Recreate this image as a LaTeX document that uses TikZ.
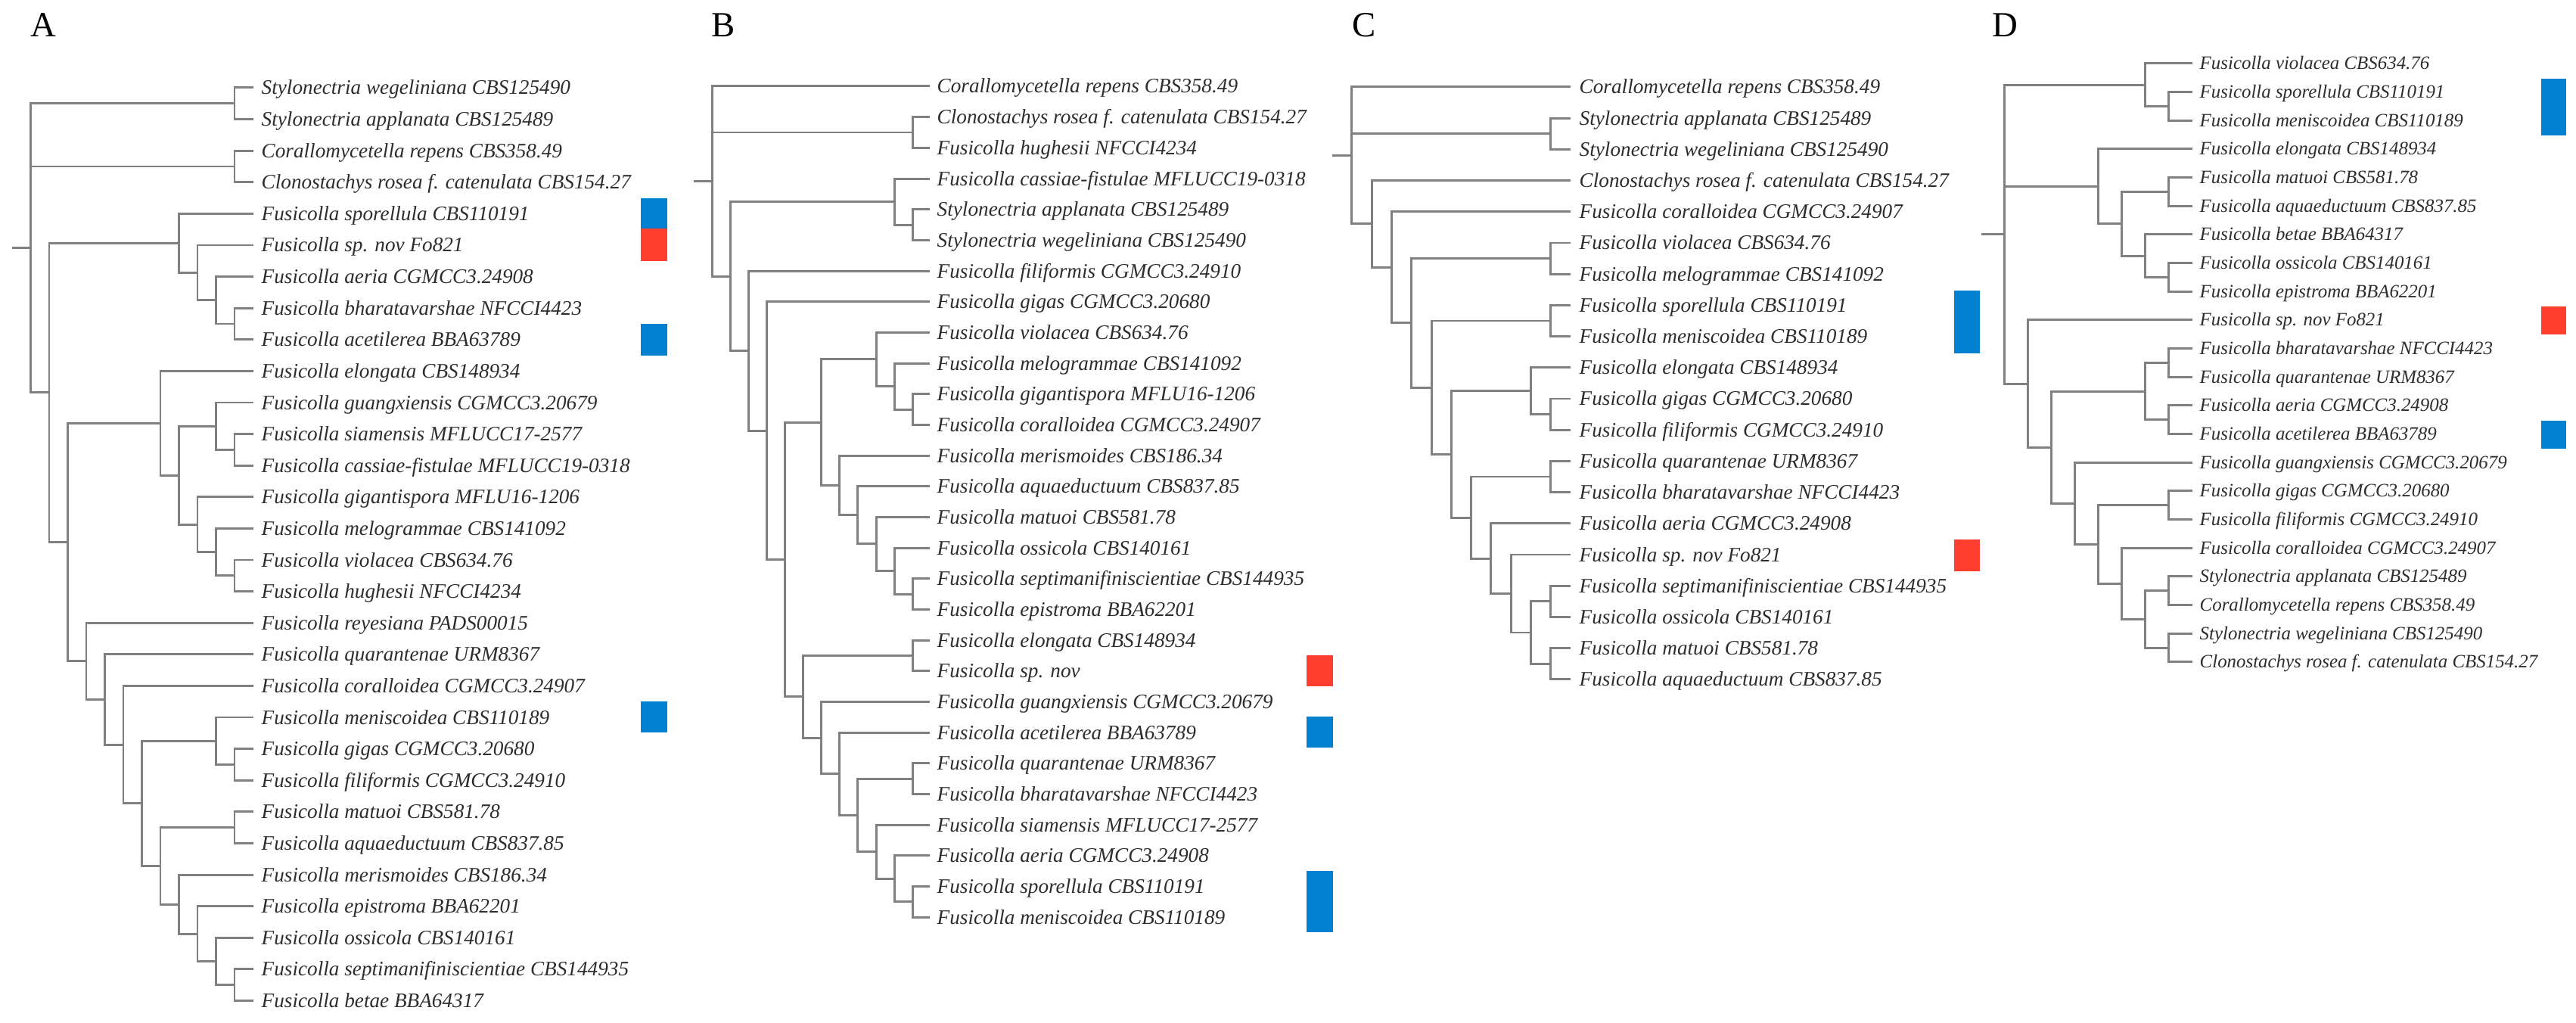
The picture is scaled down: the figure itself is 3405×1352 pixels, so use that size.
\documentclass[tikz,border=0pt]{standalone}
\usepackage{fontspec}
\setmainfont{Liberation Serif}
\usetikzlibrary{calc}
\definecolor{treegray}{RGB}{128,128,128}
\definecolor{txtgray}{RGB}{45,45,45}
\definecolor{bblue}{RGB}{0,128,206}
\definecolor{bred}{RGB}{255,62,48}
\newcommand\ny[1]{\csname ny@#1\endcsname}
\newcommand\leaf[3]{%
  \pgfmathsetmacro\tmpy{\yz+(#2-1)*\dy}%
  \expandafter\xdef\csname ny@#1\endcsname{\tmpy}%
  \coordinate (#1) at (\tipx,\tmpy);%
  \node[lbl] (#1t) at (\txtx,\tmpy+\bo) {#3};%
}
\newcommand\clade[4]{%
  \pgfmathsetmacro\tmpy{(\ny{#3}+\ny{#4})/2}%
  \expandafter\xdef\csname ny@#1\endcsname{\tmpy}%
  \pgfmathsetmacro\tmpx{\xo+\xs*#2}%
  \coordinate (#1) at (\tmpx,\tmpy);%
  \draw[br] (#3) -| (#1) |- (#4);%
}
\newcommand\rootthree[4]{%
  \pgfmathsetmacro\tmpy{(\ny{#2}+\ny{#4})/2}%
  \pgfmathsetmacro\tmpx{\xo+\xs}%
  \coordinate (#1) at (\tmpx,\tmpy);%
  \coordinate (#1s) at (\xo,\tmpy);%
  \draw[br] (#2) -| (#1) |- (#4);%
  \draw[br] (#1 |- #3) -- (#3);%
  \draw[br] (#1s) -- (#1);%
}
\begin{document}
\begin{tikzpicture}[x=0.01cm,y=-0.01cm,
  br/.style={draw=treegray,line width=0.85pt},
  lbl/.style={font=\lblfont,anchor=base west,inner sep=0pt,text=txtgray},
  panel/.style={font=\fontsize{13.3}{15}\selectfont,anchor=base west,inner sep=0pt,text=black}]
\useasboundingbox (0,0) rectangle (3405,1352);
\def\lblfont{\fontsize{7.74}{9}\selectfont\itshape}
\def\bo{9}
% ---------------- Panel A ----------------
\node[panel] (labA) at (40,49) {A};
\def\xo{16}\def\xs{24.5}\def\tipx{334.5}\def\txtx{345}\def\yz{116}\def\dy{41.6}
\leaf{a1}{1}{Stylonectria wegeliniana CBS125490}
\leaf{a2}{2}{Stylonectria applanata CBS125489}
\leaf{a3}{3}{Corallomycetella repens CBS358.49}
\leaf{a4}{4}{Clonostachys rosea f. catenulata CBS154.27}
\leaf{a5}{5}{Fusicolla sporellula CBS110191}
\leaf{a6}{6}{Fusicolla sp. nov Fo821}
\leaf{a7}{7}{Fusicolla aeria CGMCC3.24908}
\leaf{a8}{8}{Fusicolla bharatavarshae NFCCI4423}
\leaf{a9}{9}{Fusicolla acetilerea BBA63789}
\leaf{a10}{10}{Fusicolla elongata CBS148934}
\leaf{a11}{11}{Fusicolla guangxiensis CGMCC3.20679}
\leaf{a12}{12}{Fusicolla siamensis MFLUCC17-2577}
\leaf{a13}{13}{Fusicolla cassiae-fistulae MFLUCC19-0318}
\leaf{a14}{14}{Fusicolla gigantispora MFLU16-1206}
\leaf{a15}{15}{Fusicolla melogrammae CBS141092}
\leaf{a16}{16}{Fusicolla violacea CBS634.76}
\leaf{a17}{17}{Fusicolla hughesii NFCCI4234}
\leaf{a18}{18}{Fusicolla reyesiana PADS00015}
\leaf{a19}{19}{Fusicolla quarantenae URM8367}
\leaf{a20}{20}{Fusicolla coralloidea CGMCC3.24907}
\leaf{a21}{21}{Fusicolla meniscoidea CBS110189}
\leaf{a22}{22}{Fusicolla gigas CGMCC3.20680}
\leaf{a23}{23}{Fusicolla filiformis CGMCC3.24910}
\leaf{a24}{24}{Fusicolla matuoi CBS581.78}
\leaf{a25}{25}{Fusicolla aquaeductuum CBS837.85}
\leaf{a26}{26}{Fusicolla merismoides CBS186.34}
\leaf{a27}{27}{Fusicolla epistroma BBA62201}
\leaf{a28}{28}{Fusicolla ossicola CBS140161}
\leaf{a29}{29}{Fusicolla septimanifiniscientiae CBS144935}
\leaf{a30}{30}{Fusicolla betae BBA64317}
\clade{aS}{12}{a1}{a2}
\clade{aC}{12}{a3}{a4}
\clade{aN4}{12}{a8}{a9}
\clade{aN3}{11}{a7}{aN4}
\clade{aN2}{10}{a6}{aN3}
\clade{aN1}{9}{a5}{aN2}
\clade{aH3b}{12}{a12}{a13}
\clade{aH3}{11}{a11}{aH3b}
\clade{aH4c}{12}{a16}{a17}
\clade{aH4b}{11}{a15}{aH4c}
\clade{aH4}{10}{a14}{aH4b}
\clade{aH2}{9}{aH3}{aH4}
\clade{aH}{8}{a10}{aH2}
\clade{aJb}{12}{a22}{a23}
\clade{aJ}{11}{a21}{aJb}
\clade{aK1}{12}{a24}{a25}
\clade{aL3b}{12}{a29}{a30}
\clade{aL3}{11}{a28}{aL3b}
\clade{aL2}{10}{a27}{aL3}
\clade{aL}{9}{a26}{aL2}
\clade{aK}{8}{aK1}{aL}
\clade{aI4}{7}{aJ}{aK}
\clade{aI3}{6}{a20}{aI4}
\clade{aI2}{5}{a19}{aI3}
\clade{aI}{4}{a18}{aI2}
\clade{aG}{3}{aH}{aI}
\clade{aF}{2}{aN1}{aG}
\rootthree{aR}{aS}{aC}{aF}
\fill[bblue] (847,262) rectangle (882,302);
\fill[bred] (847,302) rectangle (882,345);
\fill[bblue] (847,428) rectangle (882,470);
\fill[bblue] (847,927) rectangle (882,968);
% ---------------- Panel B ----------------
\node[panel] (labB) at (940,49) {B};
\def\xo{917}\def\xs{24.1}\def\tipx{1229}\def\txtx{1238}\def\yz{114}\def\dy{40.67}
\leaf{b1}{1}{Corallomycetella repens CBS358.49}
\leaf{b2}{2}{Clonostachys rosea f. catenulata CBS154.27}
\leaf{b3}{3}{Fusicolla hughesii NFCCI4234}
\leaf{b4}{4}{Fusicolla cassiae-fistulae MFLUCC19-0318}
\leaf{b5}{5}{Stylonectria applanata CBS125489}
\leaf{b6}{6}{Stylonectria wegeliniana CBS125490}
\leaf{b7}{7}{Fusicolla filiformis CGMCC3.24910}
\leaf{b8}{8}{Fusicolla gigas CGMCC3.20680}
\leaf{b9}{9}{Fusicolla violacea CBS634.76}
\leaf{b10}{10}{Fusicolla melogrammae CBS141092}
\leaf{b11}{11}{Fusicolla gigantispora MFLU16-1206}
\leaf{b12}{12}{Fusicolla coralloidea CGMCC3.24907}
\leaf{b13}{13}{Fusicolla merismoides CBS186.34}
\leaf{b14}{14}{Fusicolla aquaeductuum CBS837.85}
\leaf{b15}{15}{Fusicolla matuoi CBS581.78}
\leaf{b16}{16}{Fusicolla ossicola CBS140161}
\leaf{b17}{17}{Fusicolla septimanifiniscientiae CBS144935}
\leaf{b18}{18}{Fusicolla epistroma BBA62201}
\leaf{b19}{19}{Fusicolla elongata CBS148934}
\leaf{b20}{20}{Fusicolla sp. nov}
\leaf{b21}{21}{Fusicolla guangxiensis CGMCC3.20679}
\leaf{b22}{22}{Fusicolla acetilerea BBA63789}
\leaf{b23}{23}{Fusicolla quarantenae URM8367}
\leaf{b24}{24}{Fusicolla bharatavarshae NFCCI4423}
\leaf{b25}{25}{Fusicolla siamensis MFLUCC17-2577}
\leaf{b26}{26}{Fusicolla aeria CGMCC3.24908}
\leaf{b27}{27}{Fusicolla sporellula CBS110191}
\leaf{b28}{28}{Fusicolla meniscoidea CBS110189}
\clade{bP23}{12}{b2}{b3}
\clade{bP56}{12}{b5}{b6}
\clade{bQ4}{11}{b4}{bP56}
\clade{bT12}{12}{b11}{b12}
\clade{bT10}{11}{b10}{bT12}
\clade{bT9}{10}{b9}{bT10}
\clade{bX18}{12}{b17}{b18}
\clade{bX}{11}{b16}{bX18}
\clade{bW}{10}{b15}{bX}
\clade{bV}{9}{b14}{bW}
\clade{bU}{8}{b13}{bV}
\clade{bT}{7}{bT9}{bU}
\clade{bY20}{12}{b19}{b20}
\clade{bZ24}{12}{b23}{b24}
\clade{bZ28}{12}{b27}{b28}
\clade{bZ5}{11}{b26}{bZ28}
\clade{bZ4}{10}{b25}{bZ5}
\clade{bZ3}{9}{bZ24}{bZ4}
\clade{bZ2}{8}{b22}{bZ3}
\clade{bZ}{7}{b21}{bZ2}
\clade{bY}{6}{bY20}{bZ}
\clade{bS}{5}{bT}{bY}
\clade{bR}{4}{b8}{bS}
\clade{bQ}{3}{b7}{bR}
\clade{bP}{2}{bQ4}{bQ}
\rootthree{bRt}{b1}{bP23}{bP}
\fill[bred] (1727,866) rectangle (1762,907);
\fill[bblue] (1727,947) rectangle (1762,988);
\fill[bblue] (1727,1151) rectangle (1762,1232);
% ---------------- Panel C ----------------
\node[panel] (labC) at (1787,49) {C};
\def\xo{1760.5}\def\xs{26.3}\def\tipx{2076}\def\txtx{2087}\def\yz{115}\def\dy{41.2}
\leaf{c1}{1}{Corallomycetella repens CBS358.49}
\leaf{c2}{2}{Stylonectria applanata CBS125489}
\leaf{c3}{3}{Stylonectria wegeliniana CBS125490}
\leaf{c4}{4}{Clonostachys rosea f. catenulata CBS154.27}
\leaf{c5}{5}{Fusicolla coralloidea CGMCC3.24907}
\leaf{c6}{6}{Fusicolla violacea CBS634.76}
\leaf{c7}{7}{Fusicolla melogrammae CBS141092}
\leaf{c8}{8}{Fusicolla sporellula CBS110191}
\leaf{c9}{9}{Fusicolla meniscoidea CBS110189}
\leaf{c10}{10}{Fusicolla elongata CBS148934}
\leaf{c11}{11}{Fusicolla gigas CGMCC3.20680}
\leaf{c12}{12}{Fusicolla filiformis CGMCC3.24910}
\leaf{c13}{13}{Fusicolla quarantenae URM8367}
\leaf{c14}{14}{Fusicolla bharatavarshae NFCCI4423}
\leaf{c15}{15}{Fusicolla aeria CGMCC3.24908}
\leaf{c16}{16}{Fusicolla sp. nov Fo821}
\leaf{c17}{17}{Fusicolla septimanifiniscientiae CBS144935}
\leaf{c18}{18}{Fusicolla ossicola CBS140161}
\leaf{c19}{19}{Fusicolla matuoi CBS581.78}
\leaf{c20}{20}{Fusicolla aquaeductuum CBS837.85}
\clade{cN23}{11}{c2}{c3}
\clade{cN67}{11}{c6}{c7}
\clade{cN89}{11}{c8}{c9}
\clade{cN1112}{11}{c11}{c12}
\clade{cN10}{10}{c10}{cN1112}
\clade{cN1314}{11}{c13}{c14}
\clade{cN1718}{11}{c17}{c18}
\clade{cN1920}{11}{c19}{c20}
\clade{cN16b}{10}{cN1718}{cN1920}
\clade{cN16}{9}{c16}{cN16b}
\clade{cN15}{8}{c15}{cN16}
\clade{cN13}{7}{cN1314}{cN15}
\clade{cN6}{6}{cN10}{cN13}
\clade{cN5}{5}{cN89}{cN6}
\clade{cN4}{4}{cN67}{cN5}
\clade{cN3}{3}{c5}{cN4}
\clade{cN2}{2}{c4}{cN3}
\rootthree{cR}{c1}{cN23}{cN2}
\fill[bblue] (2583,384) rectangle (2617,467);
\fill[bred] (2583,713) rectangle (2617,755);
% ---------------- Panel D ----------------
\node[panel] (labD) at (2633,49) {D};
\def\lblfont{\fontsize{7.08}{8.5}\selectfont\itshape}
\def\bo{8}
\def\xo{2618.5}\def\xs{31}\def\tipx{2897.5}\def\txtx{2907}\def\yz{84}\def\dy{37.66}
\leaf{d1}{1}{Fusicolla violacea CBS634.76}
\leaf{d2}{2}{Fusicolla sporellula CBS110191}
\leaf{d3}{3}{Fusicolla meniscoidea CBS110189}
\leaf{d4}{4}{Fusicolla elongata CBS148934}
\leaf{d5}{5}{Fusicolla matuoi CBS581.78}
\leaf{d6}{6}{Fusicolla aquaeductuum CBS837.85}
\leaf{d7}{7}{Fusicolla betae BBA64317}
\leaf{d8}{8}{Fusicolla ossicola CBS140161}
\leaf{d9}{9}{Fusicolla epistroma BBA62201}
\leaf{d10}{10}{Fusicolla sp. nov Fo821}
\leaf{d11}{11}{Fusicolla bharatavarshae NFCCI4423}
\leaf{d12}{12}{Fusicolla quarantenae URM8367}
\leaf{d13}{13}{Fusicolla aeria CGMCC3.24908}
\leaf{d14}{14}{Fusicolla acetilerea BBA63789}
\leaf{d15}{15}{Fusicolla guangxiensis CGMCC3.20679}
\leaf{d16}{16}{Fusicolla gigas CGMCC3.20680}
\leaf{d17}{17}{Fusicolla filiformis CGMCC3.24910}
\leaf{d18}{18}{Fusicolla coralloidea CGMCC3.24907}
\leaf{d19}{19}{Stylonectria applanata CBS125489}
\leaf{d20}{20}{Corallomycetella repens CBS358.49}
\leaf{d21}{21}{Stylonectria wegeliniana CBS125490}
\leaf{d22}{22}{Clonostachys rosea f. catenulata CBS154.27}
\clade{dN23}{8}{d2}{d3}
\clade{dN1}{7}{d1}{dN23}
\clade{dN56}{8}{d5}{d6}
\clade{dN89}{8}{d8}{d9}
\clade{dN7}{7}{d7}{dN89}
\clade{dN4b}{6}{dN56}{dN7}
\clade{dN4}{5}{d4}{dN4b}
\clade{dN1112}{8}{d11}{d12}
\clade{dN1314}{8}{d13}{d14}
\clade{dN11}{7}{dN1112}{dN1314}
\clade{dN1617}{8}{d16}{d17}
\clade{dN1920}{8}{d19}{d20}
\clade{dN2122}{8}{d21}{d22}
\clade{dN19}{7}{dN1920}{dN2122}
\clade{dN18}{6}{d18}{dN19}
\clade{dN16}{5}{dN1617}{dN18}
\clade{dN15}{4}{d15}{dN16}
\clade{dN11b}{3}{dN11}{dN15}
\clade{dN10}{2}{d10}{dN11b}
\rootthree{dR}{dN1}{dN4}{dN10}
\fill[bblue] (3359,104) rectangle (3392,179);
\fill[bred] (3359,405) rectangle (3392,442);
\fill[bblue] (3359,556) rectangle (3392,593);
\end{tikzpicture}
\end{document}
